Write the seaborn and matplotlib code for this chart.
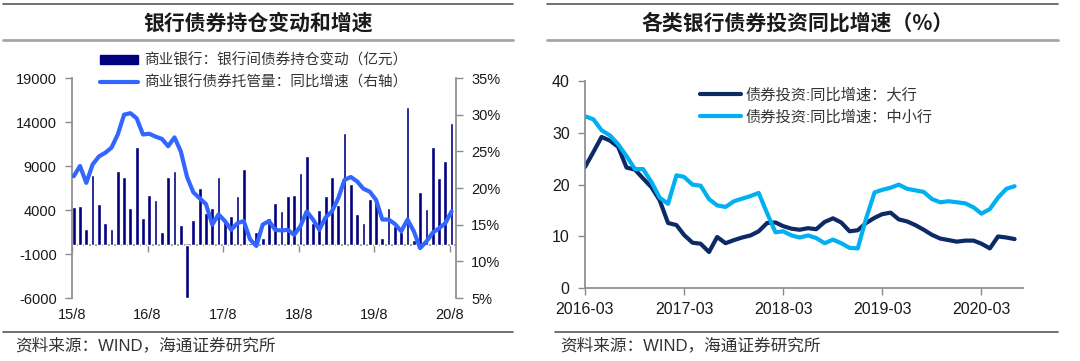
import numpy as np
import pandas as pd
import matplotlib
matplotlib.use("Agg")
import matplotlib.pyplot as plt
import seaborn as sns
from matplotlib.lines import Line2D
from matplotlib.patches import Patch

# 左图：商业银行银行间债券持仓变动（亿元），2015/8 - 2020/8 月度
hold_change = [4300, 4500, 1800, 8000, 4700, 2500, 1800, 8450, 7800, 4250,
               11200, 3100, 5700, 5150, 1550, 7700, 8450, 2300, -6050, 2850,
               6500, 3650, 4250, 7700, 2850, 3350, 5600, 8700, 200, 1500,
               800, 3100, 4850, 3900, 5550, 5650, 8250, 10100, 2500, 4000,
               5550, 7700, 4600, 12700, 6950, 3500, 2500, 5300, 5300, 800,
               4250, 2200, 1500, 15700, 600, 6000, 4100, 11200, 7600, 9550,
               13900]
# 商业银行债券托管量：同比增速（%，右轴）
custody_yoy = [21.6, 23.0, 20.7, 23.2, 24.3, 24.8, 25.5, 27.3, 30.0, 30.2,
               29.5, 27.3, 27.4, 27.0, 26.7, 25.7, 26.9, 25.0, 21.5, 19.4,
               18.6, 17.8, 15.0, 16.4, 15.5, 14.3, 15.2, 15.5, 13.0, 12.1,
               15.0, 15.5, 14.3, 14.2, 14.3, 13.6, 14.8, 16.8, 15.7, 14.3,
               16.0, 16.8, 18.6, 21.1, 21.5, 20.9, 19.9, 19.5, 18.4, 15.7,
               15.7, 15.1, 14.1, 15.7, 14.1, 11.8, 12.7, 13.9, 14.5, 15.2,
               16.8]
left_ticks = ["15/8", "16/8", "17/8", "18/8", "19/8", "20/8"]

# 右图：债券投资同比增速（%），2016-03 起月度
big_yoy = [23.4, 26.3, 29.2, 28.5, 27.3, 23.3, 22.9, 21.2, 19.5, 17.0,
           12.6, 12.2, 10.3, 8.8, 8.6, 7.0, 9.9, 8.7, 9.3, 9.8,
           10.2, 11.0, 12.6, 12.7, 12.0, 11.5, 11.3, 11.6, 11.4, 12.8,
           13.5, 12.7, 11.0, 11.2, 12.6, 13.6, 14.3, 14.6, 13.3, 12.9,
           12.2, 11.3, 10.3, 9.6, 9.3, 9.0, 9.2, 9.2, 8.6, 7.7,
           10.0, 9.8, 9.5]
small_yoy = [33.2, 32.6, 30.5, 29.5, 27.8, 25.5, 23.0, 23.0, 20.5, 17.5,
             16.3, 21.8, 21.5, 20.0, 19.8, 17.2, 16.0, 15.7, 16.8, 17.3,
             17.8, 18.4, 14.5, 10.8, 11.0, 10.2, 9.8, 10.2, 9.7, 8.7,
             9.4, 8.7, 7.8, 7.7, 13.5, 18.5, 19.0, 19.4, 20.0, 19.2,
             18.9, 18.6, 17.2, 16.6, 16.8, 16.6, 16.4, 15.6, 14.4, 15.3,
             17.5, 19.2, 19.7]
right_ticks = ["2016-03", "2017-03", "2018-03", "2019-03", "2020-03"]
right_names = ["债券投资:同比增速：大行", "债券投资:同比增速：中小行"]

NAVY = "#000080"
BLUE = "#3366FF"
DARK = "#0B2A66"
CYAN = "#00B0F0"
AXIS = "#8C8C8C"
TXT = "#1A1A1A"

sns.set_theme(style="white")
plt.rcParams["font.family"] = ["Liberation Sans", "Noto Sans CJK SC"]
plt.rcParams["axes.unicode_minus"] = False

W, H = 1080, 361
fig = plt.figure(figsize=(W / 100, H / 100), dpi=100)


def px_box(x0, y0, x1, y1):
    return [x0 / W, 1 - y1 / H, (x1 - x0) / W, (y1 - y0) / H]


# ---------------- 左图 ----------------
ax = fig.add_axes(px_box(72, 78, 456, 298))
df_left = pd.DataFrame({"月": np.arange(len(hold_change)),
                        "持仓变动": hold_change,
                        "增速": custody_yoy})
sns.barplot(data=df_left, x="月", y="持仓变动", color=NAVY, saturation=1,
            width=0.6, errorbar=None, ax=ax)
ax.set_ylim(-6000, 19000)
ax.set_yticks(np.arange(-6000, 19001, 5000))
tick_pos = [12 * k - 0.27 for k in range(len(left_ticks))]
ax.set_xticks(tick_pos, left_ticks)
ax.tick_params(axis="x", length=0, pad=7, labelsize=10.5, labelcolor=TXT)
ax.tick_params(axis="y", direction="out", length=5, width=1, color=AXIS,
               pad=6, labelsize=10.5, labelcolor=TXT, left=True)
for s in ["top", "right", "bottom"]:
    ax.spines[s].set_visible(False)
ax.spines["left"].set_color(AXIS)
ax.set_xlabel("")
ax.set_ylabel("")

zero = ax.secondary_xaxis(0, transform=ax.transData)
zero.set_xticks(tick_pos)
zero.tick_params(axis="x", direction="out", length=5, width=1, color=AXIS,
                 labelbottom=False)
zero.spines["bottom"].set_color(AXIS)

ax2 = ax.twinx()
sns.lineplot(data=df_left, x="月", y="增速", color=BLUE, linewidth=3, ax=ax2)
ax2.set_ylim(5, 35)
ax2.set_yticks(range(5, 36, 5), [f"{v}%" for v in range(5, 36, 5)])
ax2.tick_params(axis="y", direction="out", length=5, width=1, color=AXIS,
                pad=6, labelsize=10.5, labelcolor=TXT, right=True)
for s in ["top", "left", "bottom"]:
    ax2.spines[s].set_visible(False)
ax2.spines["right"].set_color(AXIS)
ax2.set_ylabel("")
ax.set_xlim(-0.27, 60.7)

fig.legend([Patch(color=NAVY), Line2D([], [], color=BLUE, lw=3)],
           ["商业银行：银行间债券持仓变动（亿元）", "商业银行债券托管量：同比增速（右轴）"],
           loc="upper left", bbox_to_anchor=(100 / W, 1 - 53 / H),
           frameon=False, fontsize=10.5, handlelength=2.6, handleheight=0.6,
           handletextpad=0.4, labelspacing=0.55, borderpad=0, borderaxespad=0,
           labelcolor="#333333")

# ---------------- 右图 ----------------
ax3 = fig.add_axes(px_box(585, 81, 1023, 288.3))
dates = pd.date_range("2016-03-01", periods=len(big_yoy), freq="MS")
df_right = pd.DataFrame({"日期": dates, right_names[0]: big_yoy,
                         right_names[1]: small_yoy})
long = df_right.melt(id_vars="日期", var_name="类别", value_name="增速")
sns.lineplot(data=long, x="日期", y="增速", hue="类别", hue_order=right_names,
             palette=[DARK, CYAN], linewidth=3, ax=ax3)
ax3.set_ylim(0, 40)
ax3.set_yticks(range(0, 41, 10))
ax3.set_xlim(pd.Timestamp("2016-03-01"), pd.Timestamp("2020-08-01"))
ax3.set_xticks([pd.Timestamp(t + "-01") for t in right_ticks], right_ticks)
ax3.tick_params(axis="both", direction="out", length=5, width=1, color=AXIS,
                labelsize=11.5, labelcolor=TXT, left=True, bottom=True)
ax3.tick_params(axis="x", pad=5)
ax3.tick_params(axis="y", pad=6)
for s in ["top", "right"]:
    ax3.spines[s].set_visible(False)
for s in ["left", "bottom"]:
    ax3.spines[s].set_color(AXIS)
ax3.set_xlabel("")
ax3.set_ylabel("")
ax3.legend(loc="upper left", bbox_to_anchor=((700 - 585) / 438, 1 - 7 / 207.3),
           frameon=False, fontsize=11, handlelength=2.7, handletextpad=0.3,
           labelspacing=0.5, borderpad=0, borderaxespad=0,
           labelcolor="#333333")

# ---------------- 标题、分隔线、来源 ----------------
fig.text(258 / W, 1 - 23 / H, "银行债券持仓变动和增速", ha="center", va="center",
         fontsize=15, fontweight="bold", color=TXT, family=["Noto Sans CJK SC"])
fig.text(798 / W, 1 - 23 / H, "各类银行债券投资同比增速（%）", ha="center", va="center",
         fontsize=15, fontweight="bold", color=TXT, family=["Noto Sans CJK SC"])

for x0, x1, xb in [(3, 513, 3), (547, 1058, 555)]:
    fig.add_artist(Line2D([x0 / W, x1 / W], [1 - 4.3 / H] * 2, color="#595959",
                          lw=1.2, transform=fig.transFigure))
    fig.add_artist(Line2D([x0 / W, x1 / W], [1 - 40 / H] * 2, color="#A6A6A6",
                          lw=2, transform=fig.transFigure))
    fig.add_artist(Line2D([xb / W, x1 / W], [1 - 332 / H] * 2, color="#595959",
                          lw=1.2, transform=fig.transFigure))

fig.text(15 / W, 1 - 345 / H, "资料来源：WIND，海通证券研究所", ha="left", va="center",
         fontsize=12, color="#333333")
fig.text(560 / W, 1 - 345 / H, "资料来源：WIND，海通证券研究所", ha="left", va="center",
         fontsize=12, color="#333333")

fig.savefig("out.png", dpi=100)
